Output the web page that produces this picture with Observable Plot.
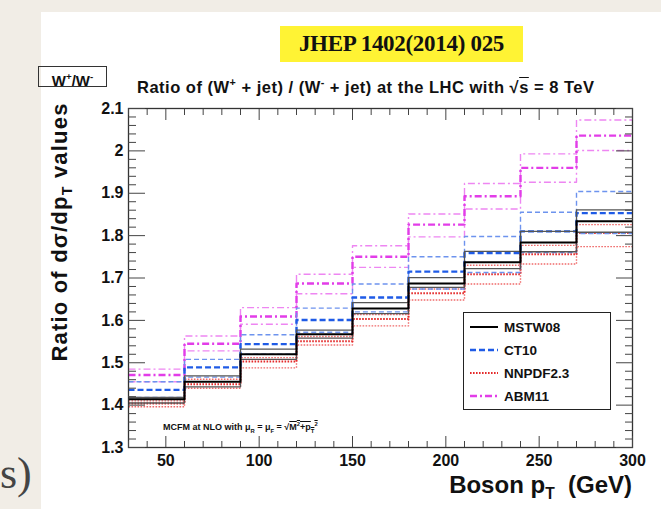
<!DOCTYPE html>
<html><head><meta charset="utf-8">
<script src="https://cdn.jsdelivr.net/npm/d3@7"></script>
<script src="https://cdn.jsdelivr.net/npm/@observablehq/plot@0.6"></script>
<style>
body{margin:0;}
#wrap{position:relative;width:661px;height:509px;background:#f1ede6;overflow:hidden;font-family:"Liberation Sans",Arial,sans-serif;color:#111;}
#panel{position:absolute;left:41px;top:12px;right:0;bottom:0;background:#fff;}
#chart{position:absolute;left:0;top:0;}
.abs{position:absolute;white-space:nowrap;}
sup,sub{font-size:65%;}
</style></head><body>
<div id="wrap">
<div id="panel"></div>
<div class="abs" style="left:0;top:448px;font-family:'Liberation Serif',serif;font-size:44px;color:#444;">s)</div>
<div id="chart"></div>
<div class="abs" style="left:280px;top:26px;width:243px;height:36px;background:#fff334;font-family:'Liberation Serif',serif;font-weight:bold;font-size:23px;line-height:36px;text-align:center;letter-spacing:-0.3px;">JHEP 1402(2014) 025</div>
<div class="abs" style="left:38px;top:66px;width:67px;height:19px;border:1.5px solid #333;font-weight:bold;font-size:15px;line-height:19px;text-align:center;">W<sup>+</sup>/W<sup>-</sup></div>
<div class="abs" style="left:137px;top:76px;font-weight:bold;font-size:16.5px;letter-spacing:0.5px;">Ratio of (W<sup>+</sup> + jet) / (W<sup>-</sup> + jet) at the LHC with &radic;<span style="text-decoration:overline">s</span> = 8 TeV</div>
<div class="abs" style="left:61px;top:232px;font-weight:bold;font-size:22px;letter-spacing:1.2px;transform:translate(-50%,-50%) rotate(-90deg);">Ratio of d&sigma;/dp<sub>T</sub> values</div>
<div class="abs" style="right:29px;top:471px;font-weight:bold;font-size:24px;line-height:28px;">Boson p<sub>T</sub>&nbsp; (GeV)</div>
<div class="abs" style="left:163px;top:421px;font-size:9px;font-weight:bold;">MCFM at NLO with &mu;<sub>R</sub> = &mu;<sub>F</sub> = &radic;<span style="text-decoration:overline">M<sup>2</sup>+p<sub>T</sub><sup>2</sup></span></div>
<div id="legend" class="abs" style="left:463px;top:312px;width:146px;height:96px;border:1.6px solid #222;background:#fff;"></div>
</div>
<script>
// Bin edges (boson pT, GeV)
const binEdges = [30, 60, 90, 120, 150, 180, 210, 240, 270, 300];
// MSTW08
const mstw   = [1.414, 1.455, 1.520, 1.567, 1.628, 1.687, 1.737, 1.784, 1.834];
const mstwUp = [1.418, 1.469, 1.532, 1.577, 1.642, 1.701, 1.763, 1.810, 1.861];
const mstwLo = [1.405, 1.443, 1.508, 1.558, 1.616, 1.678, 1.722, 1.762, 1.808];
// CT10
const ct10   = [1.436, 1.489, 1.544, 1.601, 1.654, 1.715, 1.759, 1.810, 1.853];
const ct10Up = [1.455, 1.508, 1.566, 1.629, 1.686, 1.750, 1.798, 1.855, 1.904];
const ct10Lo = [1.418, 1.466, 1.520, 1.572, 1.620, 1.674, 1.713, 1.760, 1.805];
// NNPDF2.3
const nnpdf   = [1.404, 1.449, 1.503, 1.551, 1.603, 1.664, 1.709, 1.756, 1.806];
const nnpdfUp = [1.410, 1.461, 1.512, 1.562, 1.614, 1.674, 1.730, 1.777, 1.826];
const nnpdfLo = [1.396, 1.440, 1.488, 1.542, 1.587, 1.648, 1.686, 1.733, 1.774];
// ABM11
const abm   = [1.471, 1.545, 1.609, 1.687, 1.750, 1.826, 1.893, 1.960, 2.036];
const abmUp = [1.485, 1.563, 1.630, 1.709, 1.776, 1.851, 1.923, 1.993, 2.073];
const abmLo = [1.455, 1.528, 1.591, 1.663, 1.725, 1.797, 1.863, 1.926, 2.001];

const seriesNames = ["MSTW08", "CT10", "NNPDF2.3", "ABM11"];
const yTicks = [1.3, 1.4, 1.5, 1.6, 1.7, 1.8, 1.9, 2.0, 2.1];
const yTickLabels = ["1.3", "1.4", "1.5", "1.6", "1.7", "1.8", "1.9", "2", "2.1"];
const xTicks = [50, 100, 150, 200, 250, 300];
const xTickLabels = ["50", "100", "150", "200", "250", "300"];

const styles = {
  "MSTW08":   {c: {stroke: "#000", w: 2.0, dash: null}, b: {stroke: "#555", w: 1.3, dash: null}},
  "CT10":     {c: {stroke: "#1f5be6", w: 2.4, dash: "6,3"}, b: {stroke: "#6d93ee", w: 1.4, dash: "5,3"}},
  "NNPDF2.3": {c: {stroke: "#e42a2a", w: 2.0, dash: "1.6,1.4"}, b: {stroke: "#ef6a6a", w: 1.4, dash: "1.6,1.4"}},
  "ABM11":    {c: {stroke: "#e23de8", w: 2.4, dash: "7,3,2,3"}, b: {stroke: "#ee86f2", w: 1.4, dash: "7,3,2,3"}}
};
const seriesData = {
  "MSTW08": [mstw, mstwUp, mstwLo],
  "CT10": [ct10, ct10Up, ct10Lo],
  "NNPDF2.3": [nnpdf, nnpdfUp, nnpdfLo],
  "ABM11": [abm, abmUp, abmLo]
};
const steps = vals => binEdges.map((x, i) => ({x, y: vals[Math.min(i, vals.length - 1)]}));

const lineMarks = [];
for (const name of ["ABM11", "NNPDF2.3", "CT10", "MSTW08"]) {
  const [c, up, lo] = seriesData[name];
  const st = styles[name];
  for (const [vals, s] of [[up, st.b], [lo, st.b], [c, st.c]]) {
    lineMarks.push(Plot.line(steps(vals), {x: "x", y: "y", curve: "step-after", stroke: s.stroke, strokeWidth: s.w, strokeDasharray: s.dash, strokeLinecap: "butt"}));
  }
}

const yMinor = d3.range(1.3, 2.1001, 0.02).filter(v => Math.abs(v * 10 - Math.round(v * 10)) > 1e-6);
const xMinor = d3.range(30, 301, 10).filter(v => v % 50 !== 0);

const chart = Plot.plot({
  width: 661, height: 509,
  marginLeft: 128, marginRight: 29, marginTop: 108, marginBottom: 62,
  style: {background: "transparent", fontFamily: "'Liberation Sans', Arial, sans-serif", fontWeight: "bold", fontSize: "16px", color: "#111"},
  x: {domain: [30, 300]},
  y: {domain: [1.3, 2.1]},
  marks: [
    ...lineMarks,
    Plot.frame({stroke: "#333", strokeWidth: 1.3}),
    Plot.axisY(yTicks, {anchor: "left", tickSize: 17, dx: 17, text: null, label: null, stroke: "#444"}),
    Plot.axisY(yMinor, {anchor: "left", tickSize: 8, dx: 8, text: null, label: null, stroke: "#444"}),
    Plot.axisY(yTicks, {anchor: "right", tickSize: 17, dx: -17, text: null, label: null, stroke: "#444"}),
    Plot.axisY(yMinor, {anchor: "right", tickSize: 8, dx: -8, text: null, label: null, stroke: "#444"}),
    Plot.axisX(xTicks, {anchor: "top", tickSize: 11, dy: 11, text: null, label: null, stroke: "#444"}),
    Plot.axisX(xMinor, {anchor: "top", tickSize: 6, dy: 6, text: null, label: null, stroke: "#444"}),
    Plot.axisX(xTicks, {anchor: "bottom", tickSize: 11, dy: -11, text: null, label: null, stroke: "#444"}),
    Plot.axisX(xMinor, {anchor: "bottom", tickSize: 6, dy: -6, text: null, label: null, stroke: "#444"}),
    Plot.axisY(yTicks, {anchor: "left", tickSize: 0, tickPadding: 5, label: null, tickFormat: d => yTickLabels[yTicks.indexOf(d)]}),
    Plot.axisX(xTicks, {anchor: "bottom", tickSize: 0, tickPadding: 7, label: null, tickFormat: d => xTickLabels[xTicks.indexOf(d)]})
  ]
});
document.getElementById("chart").appendChild(chart);

// Legend
const leg = document.getElementById("legend");
seriesNames.forEach((name, i) => {
  const s = styles[name].c;
  const row = document.createElement("div");
  row.style.cssText = `position:absolute;left:6px;top:${4 + i * 23}px;height:20px;display:flex;align-items:center;`;
  row.innerHTML = `<svg width="28" height="20"><line x1="0" x2="28" y1="10" y2="10" stroke="${s.stroke}" stroke-width="${s.w}" ${s.dash ? `stroke-dasharray="${s.dash}"` : ""}/></svg><span style="margin-left:6px;font-weight:bold;font-size:13.5px;">${name}</span>`;
  leg.appendChild(row);
});
</script>
</body></html>
